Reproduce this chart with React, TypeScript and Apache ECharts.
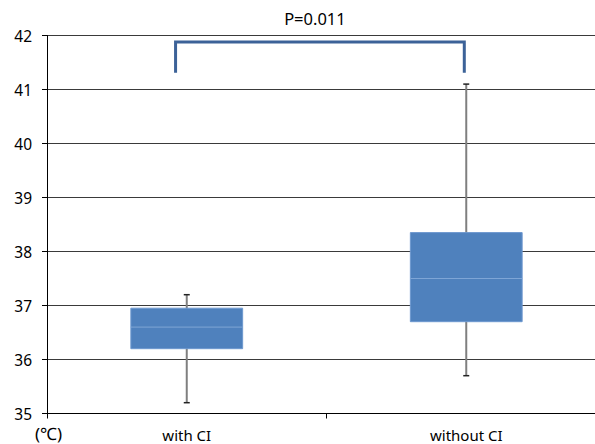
import React, { useEffect, useRef } from "react";
import * as echarts from "echarts";

const categories = ["with CI", "without CI"];
const lowWhisker = [35.2, 35.7];
const q1 = [36.2, 36.7];
const median = [36.6, 37.5];
const q3 = [36.95, 38.35];
const highWhisker = [37.2, 41.1];
const yTicks = { min: 35, max: 42, interval: 1 };
const pLabel = "P=0.011";
const bracketTop = 41.88;
const bracketBottom = 41.31;

const FONT = "'Noto Sans', sans-serif";

export default function App() {
  const ref = useRef<HTMLDivElement>(null);
  useEffect(() => {
    document.body.style.margin = "0";
    document.body.style.overflow = "hidden";
    const chart = echarts.init(ref.current!, null, { renderer: "svg" });
    const boxData = categories.map((_, i) => [i, lowWhisker[i], q1[i], median[i], q3[i], highWhisker[i]]);
    chart.setOption({
      animation: false,
      grid: { left: 47, top: 35.5, bottom: 30.5, right: 0, containLabel: false },
      xAxis: {
        type: "category",
        data: categories,
        boundaryGap: true,
        axisLine: { lineStyle: { color: "#000", width: 1 } },
        axisTick: { show: true, length: 5, lineStyle: { color: "#000" } },
        axisLabel: { color: "#000", fontFamily: FONT, fontSize: 15, margin: 14 },
        splitLine: { show: false },
      },
      yAxis: {
        type: "value",
        min: yTicks.min,
        max: yTicks.max,
        interval: yTicks.interval,
        axisLine: { show: true, lineStyle: { color: "#000", width: 1 } },
        axisTick: { show: true, length: 5, lineStyle: { color: "#000" } },
        axisLabel: { color: "#000", fontFamily: FONT, fontSize: 15.5, margin: 15 },
        splitLine: { show: true, lineStyle: { color: "#3a3a3a", width: 1 } },
      },
      graphic: [
        {
          type: "text",
          x: 48.5,
          y: 433,
          style: { text: "(℃)", fontFamily: FONT, fontSize: 17, lineHeight: 17, fill: "#000", align: "center", verticalAlign: "middle" },
        },
      ],
      series: [
        {
          type: "custom",
          data: boxData,
          encode: { x: 0, y: [1, 2, 3, 4, 5] },
          z: 3,
          renderItem: (params: any, api: any) => {
            const i = api.value(0);
            const lo = api.coord([i, api.value(1)]);
            const b1 = api.coord([i, api.value(2)]);
            const md = api.coord([i, api.value(3)]);
            const b3 = api.coord([i, api.value(4)]);
            const hi = api.coord([i, api.value(5)]);
            const w = api.size([1, 0])[0] * 0.4;
            const cx = lo[0];
            return {
              type: "group",
              children: [
                { type: "line", shape: { x1: cx, y1: lo[1], x2: cx, y2: hi[1] }, style: { stroke: "#7f7f7f", lineWidth: 2 } },
                { type: "line", shape: { x1: cx - 3, y1: lo[1], x2: cx + 3, y2: lo[1] }, style: { stroke: "#222", lineWidth: 1.5 } },
                { type: "line", shape: { x1: cx - 3, y1: hi[1], x2: cx + 3, y2: hi[1] }, style: { stroke: "#222", lineWidth: 1.5 } },
                {
                  type: "rect",
                  shape: { x: cx - w / 2, y: b3[1], width: w, height: b1[1] - b3[1] },
                  style: { fill: "#4f81bd", stroke: "#6d98cf", lineWidth: 1 },
                },
                { type: "line", shape: { x1: cx - w / 2, y1: md[1], x2: cx + w / 2, y2: md[1] }, style: { stroke: "#7ea5d6", lineWidth: 1 } },
              ],
            };
          },
        },
        {
          type: "custom",
          data: [[0, 1, bracketTop, bracketBottom]],
          encode: { x: [0, 1], y: [2, 3] },
          z: 4,
          renderItem: (params: any, api: any) => {
            const a = api.coord([api.value(0), api.value(2)]);
            const b = api.coord([api.value(1), api.value(2)]);
            const bot = api.coord([api.value(0), api.value(3)]);
            const cw = api.size([1, 0])[0];
            const xl = a[0] - cw * 0.04;
            const xr = b[0] - cw * 0.007;
            const top = a[1];
            const label = api.coord([0.5, 42]);
            return {
              type: "group",
              children: [
                {
                  type: "polyline",
                  shape: { points: [[xl, bot[1]], [xl, top], [xr, top], [xr, bot[1]]] },
                  style: { stroke: "#3c6298", lineWidth: 3, fill: "none" },
                },
                {
                  type: "text",
                  x: (xl + xr) / 2 - 5,
                  y: label[1] - 17.5,
                  style: { text: pLabel, fontFamily: FONT, fontSize: 16.5, fill: "#000", align: "center", verticalAlign: "middle" },
                },
              ],
            };
          },
        },
      ],
    });
    return () => chart.dispose();
  }, []);
  return <div ref={ref} style={{ width: 606, height: 444 }} />;
}
